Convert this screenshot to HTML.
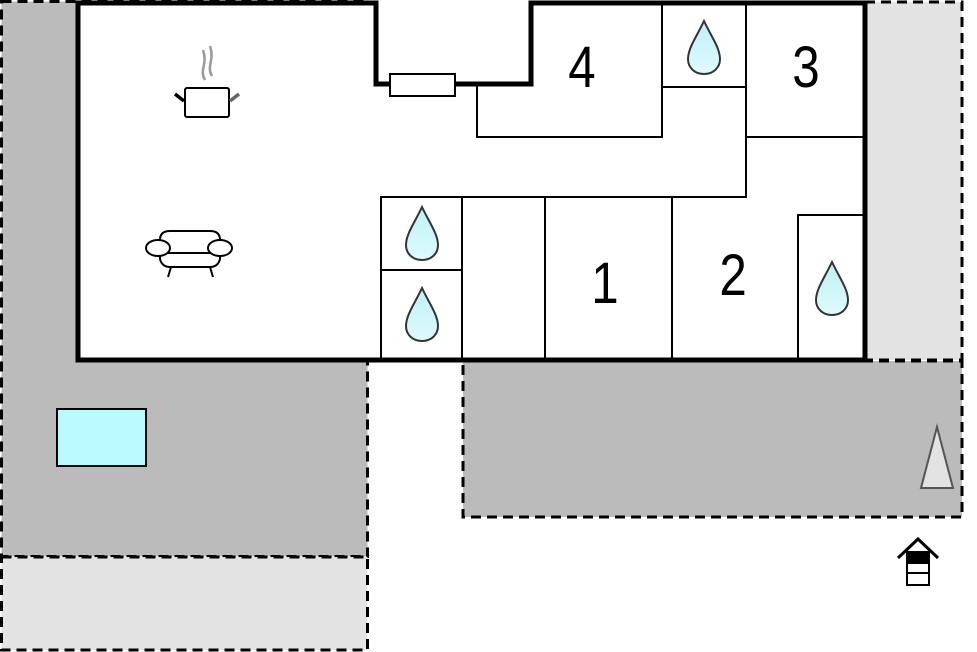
<!DOCTYPE html>
<html><head><style>
body{margin:0;background:#fff;}
svg{display:block;}
text{font-family:"Liberation Sans",sans-serif;font-size:58px;fill:#000;text-anchor:middle;}
</style></head><body>
<svg width="977" height="652" viewBox="0 0 977 652">
<defs>
<linearGradient id="g" x1="0" y1="0" x2="0" y2="1"><stop offset="0" stop-color="#bdf2f6"/><stop offset="1" stop-color="#e0fafc"/></linearGradient>
<g id="drop"><path d="M0,-27 C-7,-12 -16,0 -16,11 C-16,20 -9,26 0,26 C9,26 16,20 16,11 C16,0 7,-12 0,-27Z" fill="url(#g)" stroke="#333" stroke-width="2"/></g>
</defs>
<!-- grounds -->
<rect x="1.5" y="1.5" width="366" height="555" fill="#bbbbbb" stroke="#000" stroke-width="3" stroke-dasharray="10,6"/>
<rect x="1.5" y="557" width="366" height="93" fill="#e3e3e3" stroke="#000" stroke-width="3" stroke-dasharray="10,6"/>
<rect x="865" y="2" width="97" height="358" fill="#e3e3e3" stroke="#000" stroke-width="3" stroke-dasharray="10,6"/>
<rect x="463" y="361" width="499" height="156" fill="#bbbbbb" stroke="#000" stroke-width="3" stroke-dasharray="10,6"/>
<!-- house -->
<path d="M78,3 H376 V84 H531 V3 H865 V360 H78 Z" fill="#fff" stroke="#000" stroke-width="5"/>
<g stroke="#000" stroke-width="2" fill="none">
<path d="M477,84 V137 H662 V3"/>
<path d="M662,87 H746"/>
<path d="M746,3 V197 H381 V360"/>
<path d="M746,137 H865"/>
<path d="M381,270 H462"/>
<path d="M462,197 V360 M545,197 V360 M672,197 V360"/>
<path d="M798,360 V215 H865"/>
</g>
<rect x="390" y="74" width="65" height="22" fill="#fff" stroke="#000" stroke-width="2"/>
<g transform="scale(0.85,1)">
<text x="684.7" y="87">4</text>
<text x="948.2" y="87">3</text>
<text x="711.8" y="303">1</text>
<text x="862.4" y="295">2</text>
</g>
<use href="#drop" x="704" y="48"/>
<use href="#drop" x="422" y="234"/>
<use href="#drop" x="422" y="315"/>
<use href="#drop" x="832" y="289"/>
<!-- pot -->
<g stroke="#000" stroke-width="2" fill="#fff">
<path d="M205,80 C199,70 208,64 203,50 M212,76 C206,66 215,60 210,46" stroke="#999" fill="none" stroke-width="2.5"/>
<rect x="185" y="88" width="44" height="29" rx="2"/>
<path d="M184,101 L175,94" stroke-width="3.5"/>
<path d="M230,101 L239,94" stroke="#666" stroke-width="3.5"/>
</g>
<!-- sofa -->
<g stroke="#000" stroke-width="2" fill="#fff">
<path d="M160,252 V240 Q160,231 170,231 H210 Q220,231 220,240 V252"/>
<path d="M160,253 V259 Q162,267 170,267 H210 Q218,267 220,259 V253"/>
<ellipse cx="158" cy="248" rx="12" ry="8"/>
<ellipse cx="220" cy="248" rx="12" ry="8"/>
<path d="M167,253 H211"/>
<path d="M171,267 L168,277 M210,267 L213,277"/>
</g>
<rect x="57" y="409" width="89" height="57" fill="#b9fafc" stroke="#000" stroke-width="2"/>
<path d="M937,427 L921,488 H953 Z" fill="#e3e3e3" stroke="#555" stroke-width="2"/>
<!-- house icon -->
<g stroke="#000" stroke-width="2" fill="#fff">
<path d="M898,558 L918,539 L938,558" fill="none" stroke-width="3"/>
<rect x="907" y="552" width="22" height="33"/>
<rect x="907" y="552" width="22" height="11" fill="#000"/>
<path d="M907,573 H929"/>
</g>
</svg>
</body></html>
